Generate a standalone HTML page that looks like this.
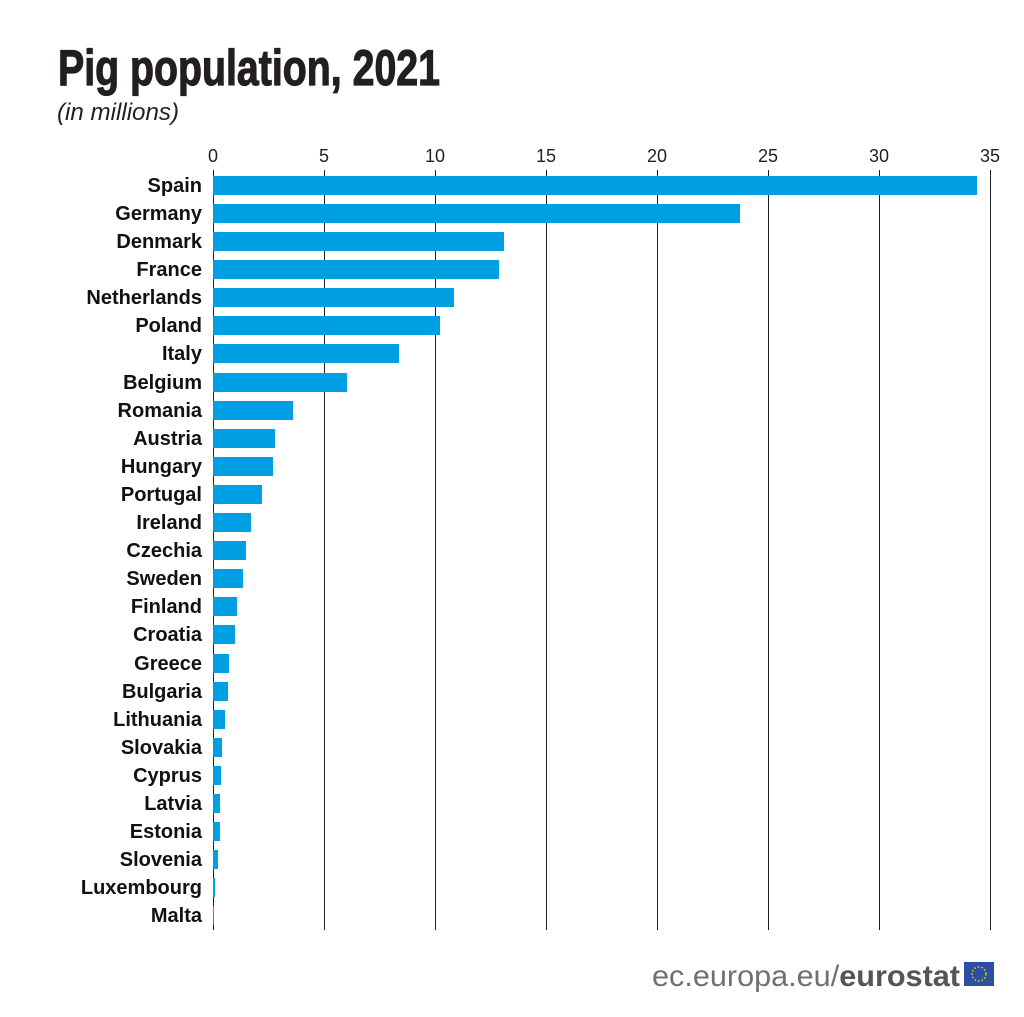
<!DOCTYPE html>
<html><head><meta charset="utf-8"><style>
body{margin:0;background:#fff}
svg text{font-family:"Liberation Sans",sans-serif}
</style></head><body>
<svg width="1024" height="1012" viewBox="0 0 1024 1012" xmlns="http://www.w3.org/2000/svg">
<text x="58" y="85" font-size="50" font-weight="bold" fill="#231f20" stroke="#231f20" stroke-width="1.2" textLength="382" lengthAdjust="spacingAndGlyphs">Pig population, 2021</text>
<text x="57" y="120" font-size="24" font-style="italic" fill="#231f20" textLength="122" lengthAdjust="spacingAndGlyphs">(in millions)</text>
<g stroke="#231f20" stroke-width="1">
<line x1="213.5" y1="170" x2="213.5" y2="930"/>
<line x1="324.5" y1="170" x2="324.5" y2="930"/>
<line x1="435.5" y1="170" x2="435.5" y2="930"/>
<line x1="546.5" y1="170" x2="546.5" y2="930"/>
<line x1="657.5" y1="170" x2="657.5" y2="930"/>
<line x1="768.5" y1="170" x2="768.5" y2="930"/>
<line x1="879.5" y1="170" x2="879.5" y2="930"/>
<line x1="990.5" y1="170" x2="990.5" y2="930"/>
</g>
<g font-size="18" fill="#231f20" text-anchor="middle">
<text x="213" y="162">0</text><text x="324" y="162">5</text><text x="435" y="162">10</text><text x="546" y="162">15</text><text x="657" y="162">20</text><text x="768" y="162">25</text><text x="879" y="162">30</text><text x="990" y="162">35</text>
</g>
<g fill="#009fe3">
<rect x="213" y="176" width="764" height="19"/>
<rect x="213" y="204" width="527" height="19"/>
<rect x="213" y="232" width="291" height="19"/>
<rect x="213" y="260" width="286" height="19"/>
<rect x="213" y="288" width="241" height="19"/>
<rect x="213" y="316" width="227" height="19"/>
<rect x="213" y="344" width="186" height="19"/>
<rect x="213" y="373" width="134" height="19"/>
<rect x="213" y="401" width="80" height="19"/>
<rect x="213" y="429" width="62" height="19"/>
<rect x="213" y="457" width="60" height="19"/>
<rect x="213" y="485" width="49" height="19"/>
<rect x="213" y="513" width="38" height="19"/>
<rect x="213" y="541" width="33" height="19"/>
<rect x="213" y="569" width="30" height="19"/>
<rect x="213" y="597" width="24" height="19"/>
<rect x="213" y="625" width="22" height="19"/>
<rect x="213" y="654" width="16" height="19"/>
<rect x="213" y="682" width="15" height="19"/>
<rect x="213" y="710" width="12" height="19"/>
<rect x="213" y="738" width="9" height="19"/>
<rect x="213" y="766" width="8" height="19"/>
<rect x="213" y="794" width="7" height="19"/>
<rect x="213" y="822" width="7" height="19"/>
<rect x="213" y="850" width="5" height="19"/>
<rect x="213" y="878" width="2" height="19"/>
<rect x="213" y="906" width="1" height="19"/>
</g>
<g font-size="20" font-weight="bold" fill="#111" text-anchor="end">
<text x="202" y="192">Spain</text>
<text x="202" y="220">Germany</text>
<text x="202" y="248">Denmark</text>
<text x="202" y="276">France</text>
<text x="202" y="304">Netherlands</text>
<text x="202" y="332">Poland</text>
<text x="202" y="360">Italy</text>
<text x="202" y="389">Belgium</text>
<text x="202" y="417">Romania</text>
<text x="202" y="445">Austria</text>
<text x="202" y="473">Hungary</text>
<text x="202" y="501">Portugal</text>
<text x="202" y="529">Ireland</text>
<text x="202" y="557">Czechia</text>
<text x="202" y="585">Sweden</text>
<text x="202" y="613">Finland</text>
<text x="202" y="641">Croatia</text>
<text x="202" y="670">Greece</text>
<text x="202" y="698">Bulgaria</text>
<text x="202" y="726">Lithuania</text>
<text x="202" y="754">Slovakia</text>
<text x="202" y="782">Cyprus</text>
<text x="202" y="810">Latvia</text>
<text x="202" y="838">Estonia</text>
<text x="202" y="866">Slovenia</text>
<text x="202" y="894">Luxembourg</text>
<text x="202" y="922">Malta</text>
</g>
<text x="652" y="986" font-size="30" fill="#707070" textLength="308" lengthAdjust="spacingAndGlyphs">ec.europa.eu/<tspan font-weight="bold" fill="#555">eurostat</tspan></text>
<rect x="964" y="962" width="30" height="24" fill="#2b4fa3"/>
<circle cx="979" cy="974" r="7" fill="none" stroke="#f5d000" stroke-width="1.5" stroke-dasharray="1.5 2"/>
</svg>
</body></html>
